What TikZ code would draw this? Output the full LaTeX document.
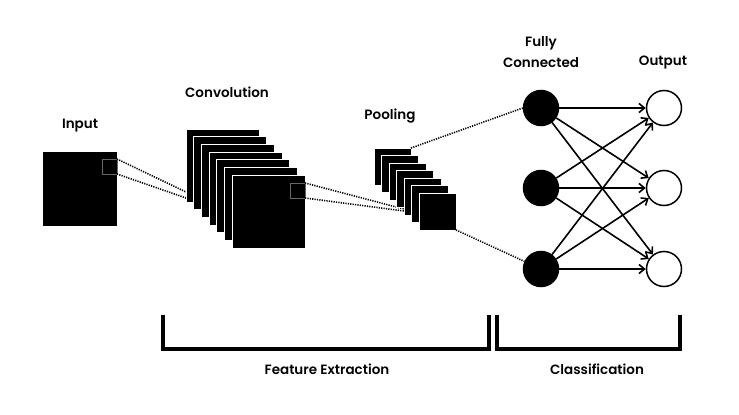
\documentclass[tikz,border=0pt]{standalone}
\usepackage{fontspec}
\setmainfont{Poppins}[BoldFont={Poppins SemiBold}]
\usetikzlibrary{arrows.meta}
\begin{document}
\begin{tikzpicture}[x=1pt,y=-1pt,
  fmap/.style={rectangle, fill=black, draw=white, line width=0.8pt, inner sep=0pt, outer sep=0pt, anchor=north west},
  patch/.style={rectangle, draw=black!60, line width=0.7pt, inner sep=0pt, outer sep=0pt, minimum size=15pt, anchor=north east},
  dots/.style={line width=1.6pt, dash pattern=on 1.2pt off 1.2pt},
  fc/.style={circle, fill=black, draw=black, line width=1.5pt, minimum size=35pt, inner sep=0pt},
  outn/.style={circle, fill=white, draw=black, line width=1.5pt, minimum size=35pt, inner sep=0pt},
  conn/.style={line width=1.6pt, -{Straight Barb[length=5.5pt,width=9pt]}},
  bracket/.style={line width=3.2pt, line cap=butt, line join=miter},
  lbl/.style={font=\fontsize{13.5}{16}\selectfont\bfseries, inner sep=0pt}]
\useasboundingbox (0,0) rectangle (739,415);
\fill[white] (0,0) rectangle (739,415);

% input
\node[rectangle, fill=black, minimum size=74pt, inner sep=0pt, outer sep=0pt, anchor=north west] (in) at (43,152) {};
\node[patch] (inp) at (117,159) {};
\coordinate (cv) at (232,214);
\draw[dots] (inp.north east) -- (cv);
\draw[dots] (inp.south east) -- (cv);

% convolution stack
\foreach \i in {0,...,6}
  \node[fmap, minimum size=73pt] (c\i) at ({186+7.67*\i},{129+7.67*\i}) {};
\node[patch] (cp) at (305,183) {};
\coordinate (pv) at (419,213);
\draw[dots] (cp.north east) -- (pv);
\draw[dots] (cp.south east) -- (pv);

% pooling stack
\foreach \i in {0,...,6}
  \node[fmap, minimum size=37pt] (p\i) at ({374+7.5*\i},{148+7.5*\i}) {};

% fully connected and output
\node[fc] (f1) at (541,108) {};
\node[fc] (f2) at (541,188) {};
\node[fc] (f3) at (541,269) {};
\node[outn] (o1) at (664,108) {};
\node[outn] (o2) at (664,188) {};
\node[outn] (o3) at (664,269) {};

\draw[dots] (p0.north east) -- (f1.west);
\draw[dots] (p6.south east) -- (f3);

\foreach \a in {1,2,3}
  \foreach \b in {1,2,3}
    \draw[conn] (f\a) -- (o\b);

% labels
\node[lbl] (tin) at (80,126) {Input};
\node[lbl] (tconv) at (227,92) {Convolution};
\node[lbl] (tpool) at (390,116) {Pooling};
\node[lbl] (tfully) at (541,43) {Fully};
\node[lbl] (tconn) at (541,63) {Connected};
\node[lbl] (tout) at (663,63) {Output};

% brackets
\draw[bracket] (163,315) -- (163,349) -- (489,349) -- (489,315);
\draw[bracket] (497,315) -- (497,349) -- (680,349) -- (680,315);
\node[lbl] (tfe) at (327,369) {Feature Extraction};
\node[lbl] (tcl) at (597,369) {Classification};
\end{tikzpicture}
\end{document}
